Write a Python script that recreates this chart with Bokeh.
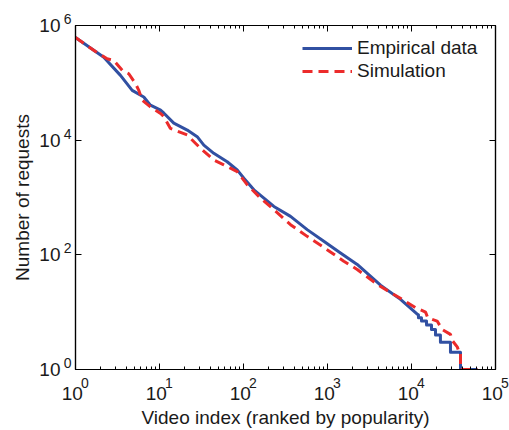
from bokeh.plotting import figure
from bokeh.models import FixedTicker, LogAxis, Legend, LegendItem
from bokeh.embed import file_html
from bokeh.resources import INLINE

# Empirical data (rank, requests)
emp_x = [1, 2.17, 3.43, 4.73, 6.5, 7.8, 10.3, 11.3, 14.8, 21.4,
         28.1, 33.7, 44.3, 63.9, 84.1, 101, 133, 175, 230, 363,
         573, 903, 1428, 2258, 4276, 7396, 11700,
         12100, 12100, 13150, 13150, 15100, 15100, 17300, 17300, 19300, 19300,
         22100, 22100, 29100, 29100, 38300, 38300, 61000]
emp_y = [6.17e5, 2.8e5, 1.35e5, 7.4e4, 5.67e4, 4.07e4, 3.33e4, 2.95e4, 1.98e4, 1.5e4,
         1.15e4, 8.2e3, 5.9e3, 4.2e3, 3.03e3, 2.17e3, 1.36e3, 977, 698, 468,
         275, 172, 108, 67.9, 29.5, 16.7, 9.2,
         9, 8, 8, 7, 7, 6, 6, 5, 5, 4,
         4, 3, 3, 2, 2, 1, 1]

# Simulation (rank, requests)
sim_x = [1, 1.73, 2.38, 2.86, 3.6, 4.31, 5.18, 5.67, 6.22, 7.8,
         10.3, 11.3, 13.5, 21.4, 30.8, 44.3, 58.3, 84.1, 111, 159,
         230, 363, 573, 865, 1563, 2258, 3906, 7745, 11160, 14700,
         15600, 20200, 23200, 29100, 30600, 35200, 36800, 38300, 38300, 61000]
sim_y = [6.17e5, 3.52e5, 2.63e5, 2.46e5, 1.65e5, 1.44e5, 9.7e4, 7.4e4, 4.97e4, 3.8e4,
         2.92e4, 2.55e4, 1.6e4, 1.23e4, 7.2e3, 4.5e3, 3.7e3, 2.83e3, 1.66e3, 977,
         612, 336, 210, 141, 77.4, 55.6, 30.5, 16.7, 12, 10,
         8, 7, 5, 4.1, 3.2, 2.45, 2, 2, 1, 1]

x_ticks = [1, 10, 100, 1000, 10000, 100000]
x_exps = ["0", "1", "2", "3", "4", "5"]
y_ticks = [1, 100, 10000, 1000000]
y_exps = ["0", "2", "4", "6"]
tick_base = "10"
x_minor = [m * d for d in [1, 10, 100, 1000, 10000] for m in range(2, 10)]

FONT = "Liberation Sans"
TXT = "#1a1a1a"
BLUE = "#3150a2"
RED = "#ec2b2b"

p = figure(width=509, height=430, x_axis_type="log", y_axis_type="log",
           x_axis_location=None, y_axis_location=None,
           x_range=(1, 1e5), y_range=(1, 1e6),
           output_backend="svg", toolbar_location=None,
           min_border_left=75, min_border_right=14,
           min_border_top=25, min_border_bottom=59)
p.grid.visible = False
p.outline_line_color = "#000000"
p.outline_line_width = 1.2
p.background_fill_color = "white"
p.border_fill_color = "white"

r1 = p.line(emp_x, emp_y, line_color=BLUE, line_width=3, line_join="round")
r2 = p.line(sim_x, sim_y, line_color=RED, line_width=3, line_dash="10 6")

xt = FixedTicker(ticks=x_ticks, minor_ticks=x_minor)
yt = FixedTicker(ticks=y_ticks, minor_ticks=[])


def tick_axis(ticker, ticks):
    # axis line + inward ticks on the frame edge, no visible labels
    ax = LogAxis(ticker=ticker)
    ax.axis_line_color = "#000000"
    ax.axis_line_width = 1.2
    ax.major_tick_in = 6
    ax.major_tick_out = 0
    ax.minor_tick_in = 3
    ax.minor_tick_out = 0
    ax.major_tick_line_color = "#000000"
    ax.minor_tick_line_color = "#000000"
    ax.major_label_overrides = {t: "." for t in ticks}
    ax.major_label_text_font_size = "2px"
    ax.major_label_text_alpha = 0
    ax.major_label_standoff = 0
    return ax


def text_axis(ticks, labels, size):
    # labels only (no line, no ticks)
    ax = LogAxis(ticker=FixedTicker(ticks=ticks, minor_ticks=[]))
    ax.axis_line_color = None
    ax.major_tick_line_color = None
    ax.minor_tick_line_color = None
    ax.major_tick_in = 0
    ax.major_tick_out = 0
    ax.minor_tick_in = 0
    ax.minor_tick_out = 0
    ax.major_label_overrides = dict(zip(ticks, labels))
    ax.major_label_text_font = FONT
    ax.major_label_text_font_size = size
    ax.major_label_text_color = TXT
    ax.axis_label_text_font = FONT
    ax.axis_label_text_font_size = "19px"
    ax.axis_label_text_font_style = "normal"
    ax.axis_label_text_color = TXT
    return ax


# bottom: ticks, exponents, bases "10" + title
p.add_layout(tick_axis(xt, x_ticks), "below")
xe = text_axis(x_ticks, ["\u2003\u2004" + e for e in x_exps], "14px")
xe.major_label_standoff = 5
p.add_layout(xe, "below")
xa = text_axis(x_ticks, [tick_base + "\u2004" for _ in x_ticks], "19px")
xa.major_label_standoff = -11
xa.axis_label = "Video index (ranked by popularity)"
xa.axis_label_standoff = 0
p.add_layout(xa, "below")

# left: ticks, exponents (raised), bases "10" + title
p.add_layout(tick_axis(yt, y_ticks), "left")
ye = text_axis(y_ticks, [e + "\n " for e in y_exps], "14px")
ye.major_label_text_line_height = 0.8
ye.major_label_standoff = 4
p.add_layout(ye, "left")
ya = text_axis(y_ticks, [tick_base for _ in y_ticks], "19px")
ya.major_label_standoff = 0
ya.axis_label = "Number of requests"
ya.axis_label_standoff = 3
p.add_layout(ya, "left")

# box ticks on top and right
p.add_layout(tick_axis(xt, x_ticks), "above")
p.add_layout(tick_axis(yt, y_ticks), "right")

legend = Legend(items=[LegendItem(label="Empirical data", renderers=[r1]),
                       LegendItem(label="Simulation", renderers=[r2])],
                location="top_right")
legend.label_text_font = FONT
legend.label_text_font_size = "19px"
legend.label_text_color = TXT
legend.glyph_width = 50
legend.glyph_height = 22
legend.label_height = 22
legend.label_width = 126
legend.label_standoff = 5
legend.spacing = 1
legend.padding = 4
legend.margin = 8
legend.border_line_alpha = 0
legend.background_fill_alpha = 0
p.add_layout(legend)

open("out.html", "w").write(file_html(p, INLINE))
